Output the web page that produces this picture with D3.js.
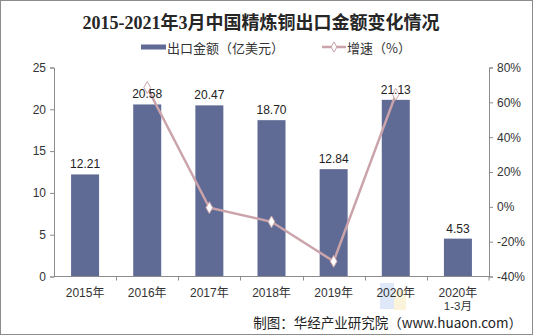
<!DOCTYPE html>
<html>
<head>
<meta charset="utf-8">
<script src="https://cdn.jsdelivr.net/npm/d3@7/dist/d3.min.js"></script>
<style>
  html, body { margin: 0; padding: 0; background: #fff; }
  svg { display: block; }
  text { font-family: "Liberation Sans", Arial, "Noto Sans CJK SC", sans-serif; }
</style>
</head>
<body>
<svg id="chart" width="533" height="335"></svg>
<script>
// Export value of refined copper (100M USD) and year-on-year growth (%)
const categories = ["2015年", "2016年", "2017年", "2018年", "2019年", "2020年", "2020年\n1-3月"];
const exportValues = [12.21, 20.58, 20.47, 18.70, 12.84, 21.13, 4.53];
const growthRates = [null, 68.5, -0.5, -8.6, -31.3, 64.6, null];
const leftTicks = [0, 5, 10, 15, 20, 25];
const rightTicks = [-40, -20, 0, 20, 40, 60, 80];

const svg = d3.select("#chart");
const W = 533, H = 335;
const m = { left: 54, right: 489, top: 67.5, bottom: 276.5 };

// outer frame
svg.append("rect").attr("x", 0.5).attr("y", 0.5).attr("width", W - 1).attr("height", H - 1)
  .attr("fill", "#fff").attr("stroke", "#8c8c8c").attr("stroke-width", 1);

// faint logo blocks behind the footer
const wm = svg.append("g").attr("opacity", 0.16);
wm.append("rect").attr("x", 380).attr("y", 283).attr("width", 14).attr("height", 26).attr("fill", "#3a78d8");
wm.append("rect").attr("x", 394).attr("y", 290).attr("width", 12).attr("height", 20).attr("fill", "#f0c020");

// title
svg.append("text").attr("x", 261).attr("y", 29).attr("text-anchor", "middle")
  .attr("font-size", 18).attr("font-weight", "bold").attr("fill", "#262626")
  .style("font-family", '"Liberation Serif", "Noto Sans CJK SC", serif')
  .text("2015-2021年3月中国精炼铜出口金额变化情况");

const barColor = "#606b95";
const lineColor = "#caa4aa";

// legend
const lg = svg.append("g");
lg.append("rect").attr("x", 141).attr("y", 44.5).attr("width", 25).attr("height", 5).attr("fill", barColor);
lg.append("text").attr("x", 167).attr("y", 52.5).attr("font-size", 13).attr("fill", "#333")
  .style("font-family", '"Noto Sans CJK SC", sans-serif').text("出口金额（亿美元）");
lg.append("line").attr("x1", 322).attr("x2", 346).attr("y1", 47).attr("y2", 47)
  .attr("stroke", lineColor).attr("stroke-width", 2.5);
lg.append("path").attr("d", d3.symbol(d3.symbolDiamond, 30)()).attr("transform", "translate(334,47)")
  .attr("fill", "#fff").attr("stroke", lineColor).attr("stroke-width", 1);
lg.append("text").attr("x", 347).attr("y", 52.5).attr("font-size", 13).attr("fill", "#333")
  .style("font-family", '"Noto Sans CJK SC", sans-serif').text("增速（%）");

// scales
const x = d3.scaleBand().domain(categories).range([m.left, m.right]).paddingInner(0).paddingOuter(0);
const yL = d3.scaleLinear().domain([0, 25]).range([m.bottom, m.top]);
const yR = d3.scaleLinear().domain([-40, 80]).range([m.bottom, m.top]);
const barW = 28;

const axisColor = "#8c8c8c";

// left axis
const gL = svg.append("g").attr("transform", `translate(${m.left},0)`)
  .call(d3.axisLeft(yL).tickValues(leftTicks).tickSize(4).tickPadding(4));
// right axis
const gR = svg.append("g").attr("transform", `translate(${m.right},0)`)
  .call(d3.axisRight(yR).tickValues(rightTicks).tickSize(4).tickPadding(4).tickFormat(d => d + "%"));
[gL, gR].forEach(g => {
  g.select(".domain").attr("stroke", axisColor);
  g.selectAll(".tick line").attr("stroke", axisColor);
  g.selectAll(".tick text").attr("font-size", 12).attr("fill", "#333")
    .style("font-family", '"Liberation Sans", Arial, sans-serif');
});

// bars
svg.append("g").selectAll("rect").data(exportValues).join("rect")
  .attr("x", (d, i) => x(categories[i]) + x.bandwidth() / 2 - barW / 2)
  .attr("width", barW)
  .attr("y", d => yL(d))
  .attr("height", d => yL(0) - yL(d))
  .attr("fill", barColor);

// x axis with ticks at category boundaries
const gx = svg.append("g");
gx.append("line").attr("x1", m.left).attr("x2", m.right).attr("y1", m.bottom).attr("y2", m.bottom)
  .attr("stroke", axisColor);
categories.forEach((c, i) => {
  const bx = Math.round(x(c)) + 0.5;
  if (i > 0) gx.append("line").attr("x1", bx).attr("x2", bx).attr("y1", m.bottom).attr("y2", m.bottom + 4)
    .attr("stroke", axisColor);
});
gx.append("line").attr("x1", m.right).attr("x2", m.right).attr("y1", m.bottom).attr("y2", m.bottom + 4)
  .attr("stroke", axisColor);
categories.forEach(c => {
  const lines = c.split("\n");
  const t = gx.append("text").attr("text-anchor", "middle").attr("font-size", 12).attr("fill", "#333")
    .style("font-family", '"Liberation Sans", Arial, "Noto Sans CJK SC", sans-serif');
  lines.forEach((s, k) => {
    t.append("tspan").attr("x", x(c) + x.bandwidth() / 2).attr("y", 297 + k * 12.5)
      .attr("font-size", k > 0 ? 11.5 : 12).text(s);
  });
});

// growth line
const pts = growthRates.map((v, i) => ({ v, c: categories[i] })).filter(p => p.v !== null);
const line = d3.line().x(p => x(p.c) + x.bandwidth() / 2).y(p => yR(p.v));
svg.append("path").datum(pts).attr("d", line).attr("fill", "none")
  .attr("stroke", lineColor).attr("stroke-width", 2.5);
svg.append("g").selectAll("path").data(pts).join("path")
  .attr("d", d3.symbol(d3.symbolDiamond, 40)())
  .attr("transform", p => `translate(${x(p.c) + x.bandwidth() / 2},${yR(p.v)})`)
  .attr("fill", "#fff").attr("stroke", lineColor).attr("stroke-width", 1);

// value labels
svg.append("g").selectAll("text").data(exportValues).join("text")
  .attr("x", (d, i) => x(categories[i]) + x.bandwidth() / 2)
  .attr("y", d => yL(d) - 6)
  .attr("text-anchor", "middle").attr("font-size", 12).attr("fill", "#222")
  .text(d => d.toFixed(2));

// source note
svg.append("text").attr("x", 522).attr("y", 327.5).attr("text-anchor", "end")
  .attr("font-size", 13.5).attr("fill", "#222")
  .style("font-family", '"Noto Sans CJK SC", "Liberation Sans", sans-serif')
  .text("制图：华经产业研究院（www.huaon.com）");
</script>
</body>
</html>
